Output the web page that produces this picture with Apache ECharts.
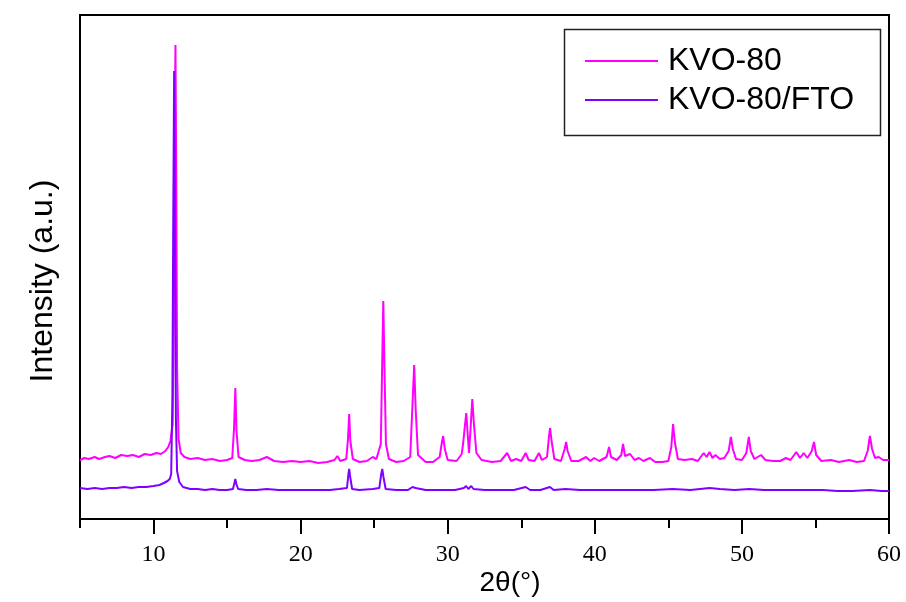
<!DOCTYPE html>
<html>
<head>
<meta charset="utf-8">
<script src="https://cdn.jsdelivr.net/npm/echarts@6/dist/echarts.min.js"></script>
<style>html,body{margin:0;padding:0;background:#fff}#c{width:906px;height:602px}</style>
</head>
<body>
<div id="c"></div>
<script>
// 2θ (degrees) and intensity (a.u.)
const kvoTheta = [5.0,5.3,5.6,6.0,6.3,6.7,7.0,7.4,7.8,8.2,8.6,9.0,9.4,9.8,10.2,10.5,10.8,11.0,11.15,11.3,11.38,11.44,11.49,11.54,11.6,11.7,11.85,12.1,12.5,13.0,13.5,14.0,14.5,15.0,15.35,15.47,15.56,15.64,15.78,16.2,16.7,17.2,17.7,18.2,18.8,19.4,20.0,20.6,21.2,21.8,22.3,22.5,22.7,23.1,23.22,23.3,23.38,23.55,24.0,24.5,24.9,25.15,25.45,25.55,25.62,25.7,25.8,26.0,26.5,27.0,27.45,27.62,27.72,27.82,27.98,28.5,29.0,29.45,29.62,29.69,29.8,30.0,30.6,30.95,31.05,31.18,31.26,31.38,31.45,31.55,31.67,31.78,31.95,32.3,33.0,33.6,34.04,34.3,34.65,35.0,35.3,35.5,35.9,36.2,36.4,36.75,36.88,36.96,37.06,37.25,37.7,37.95,38.05,38.15,38.4,38.9,39.4,39.7,39.95,40.3,40.8,40.97,41.1,41.5,41.8,41.92,42.05,42.4,42.7,43.0,43.3,43.75,44.1,44.6,45.0,45.2,45.32,45.45,45.65,46.1,46.6,47.0,47.4,47.6,47.8,48.0,48.2,48.5,48.8,49.1,49.25,49.38,49.6,50.0,50.3,50.47,50.6,50.85,51.3,51.6,52.1,52.6,53.0,53.3,53.7,53.95,54.2,54.45,54.75,54.9,55.05,55.4,56.05,56.6,57.3,57.8,58.3,58.55,58.7,58.85,59.05,59.3,59.6,60.0];
const kvoIntensity = [59,61,60,62,60,62,63,61,64,63,64,62,65,64,66,65,68,72,78,95,200,380,474,350,150,80,66,62,60,61,59,60,58,59,61,90,131,88,62,59,58,59,62,58,57,58,57,58,56,57,59,63,58,60,80,105,78,60,57,58,62,60,75,160,218,150,75,60,57,58,62,120,154,110,64,57,57,62,78,83,70,59,58,65,76,95,106,80,66,90,120,95,66,59,57,58,66,58,60,58,66,59,58,66,59,62,82,91,78,60,58,70,77,68,58,58,62,58,61,58,62,72,62,59,64,75,63,65,59,61,58,61,57,57,58,72,95,76,60,59,60,58,66,62,67,61,64,60,61,68,82,70,60,59,66,82,68,60,64,59,58,58,61,59,67,61,66,61,68,77,64,58,59,57,59,57,58,68,83,70,61,62,59,59];

const ftoTheta = [5.0,5.5,6.0,6.5,7.0,7.5,8.0,8.5,9.0,9.5,10.0,10.4,10.7,10.95,11.1,11.2,11.28,11.34,11.4,11.46,11.52,11.6,11.75,12.0,12.5,13.0,13.5,14.0,14.5,15.0,15.4,15.5,15.56,15.63,15.75,16.3,17.0,17.7,18.5,19.3,20.0,21.0,22.0,22.6,23.15,23.25,23.3,23.36,23.5,24.0,24.9,25.35,25.48,25.55,25.63,25.78,26.5,27.3,27.6,27.7,27.82,28.5,29.5,30.5,31.1,31.25,31.4,31.6,31.75,32.5,33.5,34.5,35.3,35.6,36.3,36.95,37.2,38.0,39.0,40.0,41.0,42.0,43.0,44.0,45.3,46.5,47.8,48.5,49.5,50.5,51.5,52.5,53.5,54.5,55.5,56.5,57.5,58.7,59.5,60.0];
const ftoIntensity = [31,30,31,30,31,31,32,31,32,32,33,34,36,38,40,45,120,300,448,280,100,48,37,32,30,30,29,30,29,29,30,36,40,35,30,29,29,30,29,29,29,29,29,30,31,45,50,43,30,29,30,31,45,50,42,30,29,29,32,34,31,29,29,29,31,33,30,33,30,29,29,29,32,29,29,32,29,30,29,29,29,29,29,29,30,29,31,30,29,30,29,29,29,29,29,28,28,29,28,28];

const seriesNames = ['KVO-80', 'KVO-80/FTO'];
const majorTicks = [10, 20, 30, 40, 50, 60];
const minorTicks = [5, 15, 25, 35, 45, 55];

const pair = (xs, ys) => xs.map((x, i) => [x, ys[i]]);

const chart = echarts.init(document.getElementById('c'));
chart.setOption({
  animation: false,
  backgroundColor: '#fff',
  grid: { left: 80, right: 17, top: 15, bottom: 83, show: true, borderColor: '#000', borderWidth: 2, backgroundColor: 'transparent' },
  xAxis: [{
    type: 'value', min: 5, max: 60,
    axisLine: { show: true, onZero: false, lineStyle: { color: '#000', width: 2 } },
    axisTick: { show: true, inside: false, length: 15, customValues: majorTicks, lineStyle: { color: '#000', width: 2 } },
    axisLabel: { customValues: majorTicks, margin: 24, color: '#000', fontFamily: 'Liberation Serif', fontSize: 24 },
    splitLine: { show: false }
  }, {
    type: 'value', min: 5, max: 60, position: 'bottom',
    axisLine: { show: false },
    axisTick: { show: true, length: 9, customValues: minorTicks, lineStyle: { color: '#000', width: 2 } },
    axisLabel: { show: false },
    splitLine: { show: false }
  }],
  yAxis: {
    type: 'value', min: 0, max: 504,
    axisLine: { show: false }, axisTick: { show: false }, axisLabel: { show: false }, splitLine: { show: false }
  },
  legend: {
    orient: 'vertical', left: 585, top: 45, itemWidth: 73, itemHeight: 2, itemGap: 7,
    icon: 'rect',
    data: seriesNames,
    textStyle: { fontFamily: 'Liberation Sans', fontSize: 32, color: '#000', padding: [0, 0, 0, 5] },
    padding: 0
  },
  graphic: [
    { type: 'rect', left: 562, top: 27, shape: { width: 316, height: 106 }, style: { fill: 'none', stroke: '#222', lineWidth: 1.5 }, z: 1 },
    { type: 'text', x: 43, y: 281, rotation: Math.PI / 2, style: { text: 'Intensity (a.u.)', fill: '#000', font: '32px "Liberation Sans"', textAlign: 'center', textVerticalAlign: 'middle' } },
    { type: 'text', x: 510, y: 583, style: { text: '2θ(°)', fill: '#000', font: '28px "Liberation Sans"', textAlign: 'center', textVerticalAlign: 'middle' } }
  ],
  series: [
    { name: seriesNames[0], type: 'line', data: pair(kvoTheta, kvoIntensity), symbol: 'none', lineStyle: { color: '#ff00ff', width: 2 }, itemStyle: { color: '#ff00ff' } },
    { name: seriesNames[1], type: 'line', data: pair(ftoTheta, ftoIntensity), symbol: 'none', lineStyle: { color: '#8000ff', width: 2 }, itemStyle: { color: '#8000ff' } }
  ]
});
</script>
</body>
</html>
